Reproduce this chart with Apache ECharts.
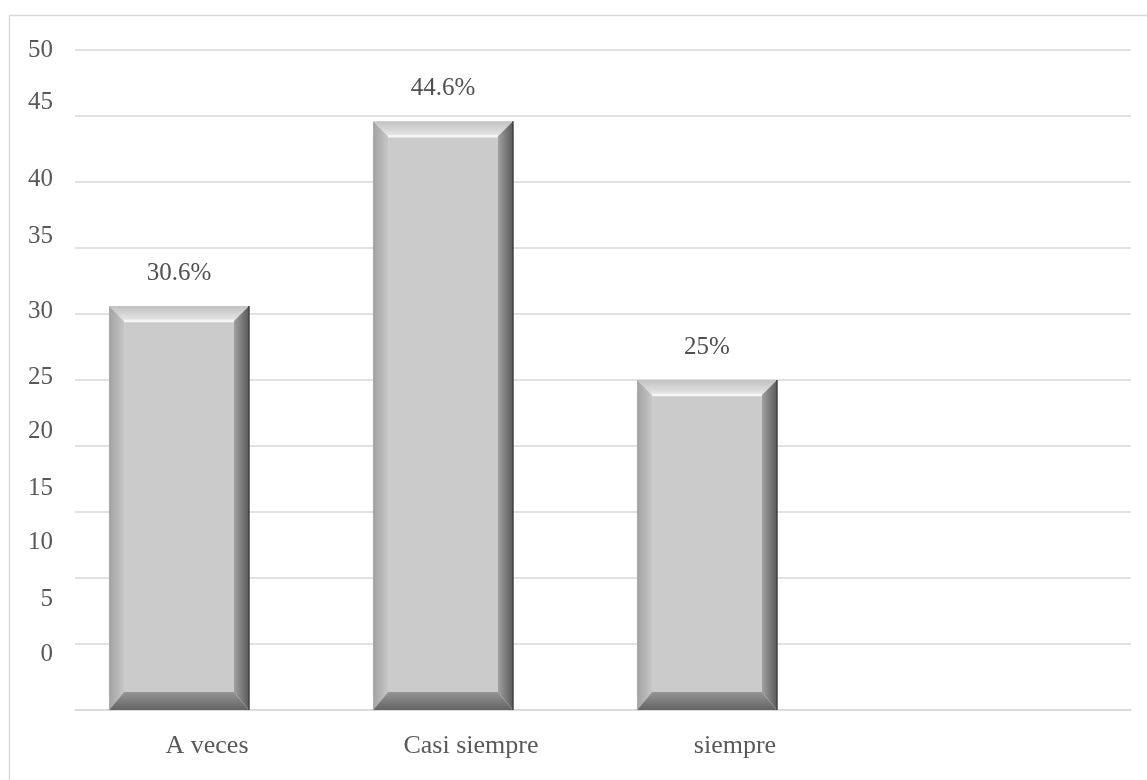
<!DOCTYPE html>
<html>
<head>
<meta charset="utf-8">
<title>Frecuencia</title>
<script src="https://cdn.jsdelivr.net/npm/echarts@6/dist/echarts.min.js"></script>
<style>
html, body { margin: 0; padding: 0; background: #fff; }
#chart { width: 1147px; height: 780px; }
</style>
</head>
<body>
<div id="chart"></div>
<script>
// datos
var categorias = ['A veces', 'Casi siempre', 'siempre', ''];
var valores = [30.6, 44.6, 25];
var etiquetasY = ['0', '5', '10', '15', '20', '25', '30', '35', '40', '45', '50'];
// posicion de cada etiqueta del eje (tal como aparecen en la imagen)
var posEtiquetasY = [4.2, 8.4, 12.7, 16.8, 21.1, 25.2, 30.2, 35.9, 40.2, 46.0, 50];

var fuente = 'Liberation Serif';

// barra con bisel
function renderBarra(params, api) {
    var top = api.coord([api.value(0), api.value(1)]);
    var base = api.coord([api.value(0), 0]);
    var bw = api.size([1, 0])[0] * 0.53;
    var x0 = top[0] - bw / 2, x1 = top[0] + bw / 2;
    var y0 = top[1], y1 = base[1];
    var b = 15, bb = 18;
    var G = echarts.graphic.LinearGradient;
    return {
        type: 'group',
        children: [{
            type: 'rect',
            shape: {x: x0 + b, y: y0 + b, width: bw - 2 * b, height: y1 - y0 - b - bb},
            style: {fill: '#cbcbcb'}
        }, {
            type: 'polygon',
            shape: {points: [[x0, y0], [x1, y0], [x1 - b, y0 + b], [x0 + b, y0 + b]]},
            style: {fill: new G(0, 0, 0, 1, [{offset: 0, color: '#c2c2c2'}, {offset: 0.6, color: '#d8d8d8'}, {offset: 1, color: '#e8e8e8'}])}
        }, {
            type: 'polygon',
            shape: {points: [[x0, y0], [x0 + b, y0 + b], [x0 + b, y1 - bb], [x0, y1]]},
            style: {fill: new G(0, 0, 1, 0, [{offset: 0, color: '#a2a2a2'}, {offset: 1, color: '#c6c6c6'}])}
        }, {
            type: 'polygon',
            shape: {points: [[x1, y0], [x1, y1], [x1 - b, y1 - bb], [x1 - b, y0 + b]]},
            style: {fill: new G(0, 0, 1, 0, [{offset: 0, color: '#a0a0a0'}, {offset: 1, color: '#5a5a5a'}])}
        }, {
            type: 'polygon',
            shape: {points: [[x0, y1], [x0 + b, y1 - bb], [x1 - b, y1 - bb], [x1, y1]]},
            style: {fill: new G(0, 0, 0, 1, [{offset: 0, color: '#959595'}, {offset: 1, color: '#646464'}])}
        }, {
            type: 'line',
            shape: {x1: x0 + b, y1: y0 + b, x2: x1 - b, y2: y0 + b},
            style: {stroke: '#f6f6f6', lineWidth: 2.5}
        }, {
            type: 'line',
            shape: {x1: x1, y1: y0, x2: x1, y2: y1},
            style: {stroke: '#3e3e3e', lineWidth: 1.5}
        }, {
            type: 'text',
            style: {
                x: top[0], y: y0 - 33,
                text: api.value(1) + '%',
                align: 'center', verticalAlign: 'middle',
                font: '25px "' + fuente + '"',
                fill: '#505050'
            }
        }]
    };
}

var datosBarra = [];
for (var i = 0; i < valores.length; i++) {
    datosBarra.push([i, valores[i]]);
}

var myChart = echarts.init(document.getElementById('chart'));
var option = {
    animation: false,
    backgroundColor: '#fff',
    textStyle: {fontFamily: fuente},
    graphic: [{
        type: 'rect',
        shape: {x: 9.5, y: 15.5, width: 1200, height: 800},
        style: {fill: 'none', stroke: '#d9d9d9', lineWidth: 1.5},
        silent: true
    }],
    grid: [
        {left: 75, right: 16, top: 50, bottom: 70},
        {left: 47, right: 44, top: 50, bottom: 70}
    ],
    xAxis: [{
        gridIndex: 0,
        type: 'category',
        data: categorias,
        axisLine: {lineStyle: {color: '#d9d9d9', width: 1.5}},
        axisTick: {show: false},
        axisLabel: {margin: 23, fontSize: 26, color: '#595959', fontFamily: fuente}
    }, {
        gridIndex: 1,
        type: 'category',
        data: categorias,
        show: false
    }],
    yAxis: [{
        gridIndex: 0,
        type: 'value',
        min: 0, max: 50, interval: 5,
        axisLine: {show: false},
        axisTick: {show: false},
        axisLabel: {show: false},
        splitLine: {lineStyle: {color: '#d9d9d9', width: 1.5}}
    }, {
        gridIndex: 0,
        type: 'value',
        position: 'left',
        min: 0, max: 50,
        axisLine: {show: false},
        axisTick: {show: false},
        splitLine: {show: false},
        axisLabel: {
            margin: 22,
            fontSize: 25,
            color: '#595959',
            fontFamily: fuente,
            customValues: posEtiquetasY,
            formatter: function (v) {
                var k = 0, d = 1e9;
                for (var j = 0; j < posEtiquetasY.length; j++) {
                    if (Math.abs(posEtiquetasY[j] - v) < d) { d = Math.abs(posEtiquetasY[j] - v); k = j; }
                }
                return etiquetasY[k];
            }
        }
    }, {
        gridIndex: 1,
        type: 'value',
        min: 0, max: 50,
        show: false
    }],
    series: [{
        type: 'custom',
        xAxisIndex: 1,
        yAxisIndex: 2,
        renderItem: renderBarra,
        data: datosBarra
    }]
};
myChart.setOption(option);
</script>
</body>
</html>
